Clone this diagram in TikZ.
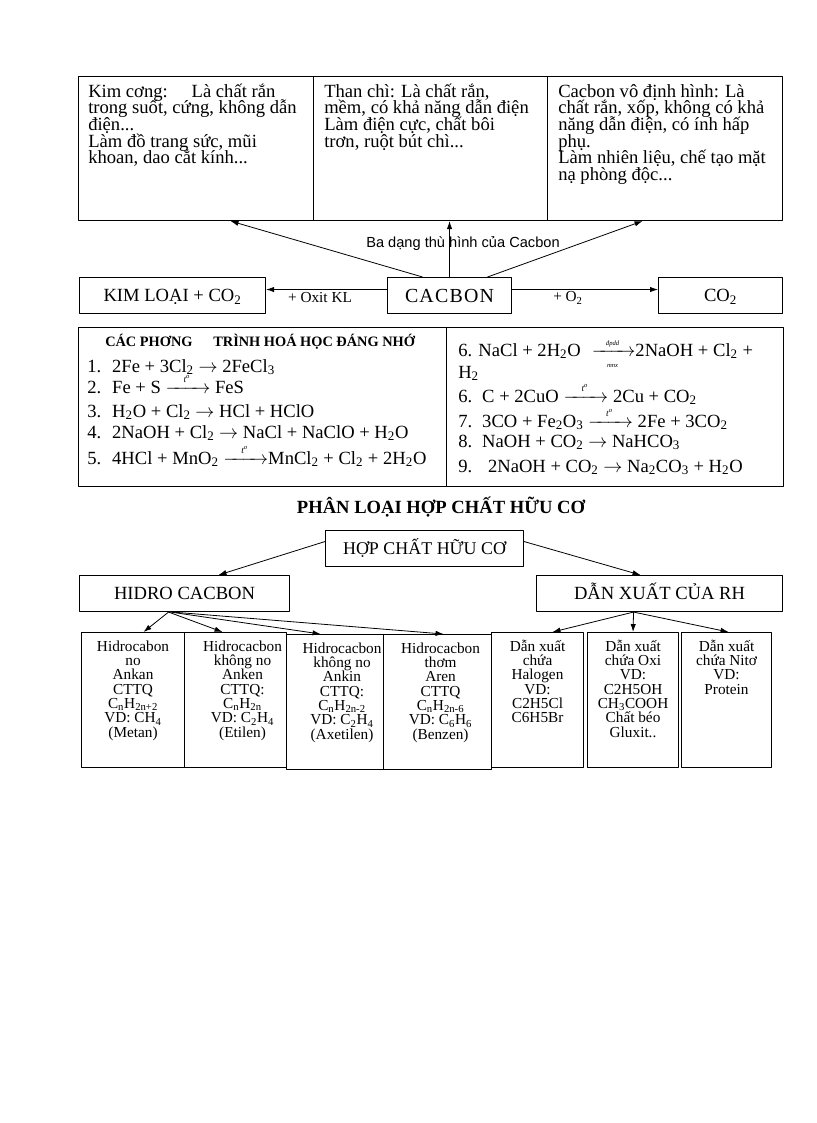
\documentclass[tikz,border=0pt]{standalone}
\usepackage{fontspec}
\usepackage{amsmath}
\setmainfont{Liberation Serif}
\newfontfamily\labelfont{Liberation Sans}
\usetikzlibrary{positioning,calc,arrows.meta}
\newlength\upx
\setlength\upx{0.75bp}
% reaction arrows with a condition written over them
\newcommand\heatarrow{\ensuremath{\xrightarrow{\text{\makebox[26pt]{\fontsize{7}{7}\selectfont\itshape t\textsuperscript{o}}}}}}
\newcommand\elecarrow{\ensuremath{\xrightarrow[\text{\makebox[25pt]{\fontsize{5}{5}\selectfont\itshape mnx}}]{\text{\makebox[25pt]{\fontsize{5}{5}\selectfont\itshape đpdd}}}}}
\begin{document}
\begin{tikzpicture}[>={Latex[length=6pt,width=4pt]},line join=bevel,x=0.75bp,y=-0.75bp,
  box/.style={draw,line width=0.8pt,inner sep=0pt,anchor=north west},
  capsbox/.style={box,minimum height=36\upx,text height=9pt,text depth=0pt,font=\fontsize{14}{14}\selectfont},
  boxtext/.style={inner sep=0pt,anchor=north west,align=left,font={\fontsize{14}{12.5}\selectfont\lineskiplimit=-20pt\lineskip=0pt}},
  eqline/.style={inner sep=0pt,anchor=base west,font=\fontsize{14}{16}\selectfont},
  eqhead/.style={inner sep=0pt,anchor=base west,font=\bfseries\fontsize{10.8}{12}\selectfont},
  leaftext/.style={inner sep=0pt,align=center,font={\fontsize{11.5}{10.75}\selectfont\lineskiplimit=-20pt\lineskip=0pt}},
  lbl/.style={inner sep=0pt,font=\fontsize{11.5}{12}\selectfont},
  link/.style={black,->,line width=0.6pt}]
\fill[white] (0,0) rectangle (816,1123);
\useasboundingbox (0,0) rectangle (816,1123);
%% the three forms of carbon
\node (kimcuong) at (78,76) [box,minimum width=235\upx,minimum height=144\upx] {};
\node (thanchi) at (313,76) [box,minimum width=234\upx,minimum height=144\upx] {};
\node (vodinh) at (547,76) [box,minimum width=235\upx,minimum height=144\upx] {};
\node (kimcuong_t) at (88,78.4) [boxtext] {\rule{0pt}{14pt}Kim cơng:\hspace{0.95em} Là chất rắn\\trong suốt, cứng, không dẫn\\điện...\\Làm đồ trang sức, mũi\\khoan, dao cắt kính...};
\node (thanchi_t) at (324,78.4) [boxtext] {\rule{0pt}{14pt}Than chì: Là chất rắn,\\mềm, có khả năng dẫn điện\\Làm điện cực, chất bôi\\trơn, ruột bút chì...};
\node (vodinh_t) at (558,78.4) [boxtext] {\rule{0pt}{14pt}Cacbon vô định hình: Là\\chất rắn, xốp, không có khả\\năng dẫn điện, có ính hấp\\phụ.\\Làm nhiên liệu, chế tạo mặt\\nạ phòng độc...};
%
\node (kimloai) at (79,277) [capsbox,minimum width=186\upx] {KIM LOẠI + CO\textsubscript{2}};
\node (cacbon) at (387,277) [capsbox,minimum width=124\upx,text height=10pt,font={\fontsize{15}{15}\selectfont\addfontfeature{LetterSpace=6}}] {CACBON};
\node (co2) at (658,277) [capsbox,minimum width=124\upx] {CO\textsubscript{2}};
\node (thuhinh) at (463,243) [inner sep=0pt,font=\labelfont\fontsize{11}{12}\selectfont] {Ba dạng thù hình của Cacbon};
\node (oxitkl) at (320,298) [lbl] {+ Oxit KL};
\node (oxi2) at (568,298) [lbl] {+ O\textsubscript{2}};
\draw [link] ($(cacbon.north)+(-27,0)$) -- ($(kimcuong.south)+(34.5,0)$);
\draw [link] (cacbon.north) -- ($(thanchi.south)+(19,0)$);
\draw [link] ($(cacbon.north)+(38,0)$) -- ($(vodinh.south)+(-22.5,0)$);
\draw [link] ([yshift=6\upx]cacbon.west) -- ([yshift=6\upx]kimloai.east);
\draw [link] ([yshift=6\upx]cacbon.east) -- ([yshift=6\upx]co2.west);
%% equations to remember
\node (ptleft) at (78,327) [box,minimum width=368\upx,minimum height=159\upx] {};
\node (ptright) at (446,327) [box,minimum width=337\upx,minimum height=159\upx] {};
\node (pt_head) at (105,346) [eqhead] {CÁC PHƠNG\hspace{1.2em} TRÌNH HOÁ HỌC ĐÁNG NHỚ};
\node (pt1) at (87,372) [eqline] {\makebox[1.34em][l]{1.}2Fe + 3Cl\textsubscript{2} $\rightarrow$ 2FeCl\textsubscript{3}};
\node (pt2) at (87,393) [eqline] {\makebox[1.34em][l]{2.}Fe + S \heatarrow{} FeS};
\node (pt3) at (87,417) [eqline] {\makebox[1.34em][l]{3.}H\textsubscript{2}O + Cl\textsubscript{2} $\rightarrow$ HCl + HClO};
\node (pt4) at (87,438) [eqline] {\makebox[1.34em][l]{4.}2NaOH + Cl\textsubscript{2} $\rightarrow$ NaCl + NaClO + H\textsubscript{2}O};
\node (pt5) at (87,464) [eqline] {\makebox[1.34em][l]{5.}4HCl + MnO\textsubscript{2} \heatarrow{}MnCl\textsubscript{2} + Cl\textsubscript{2} + 2H\textsubscript{2}O};
\node (pt6) at (458,356) [eqline] {6. NaCl + 2H\textsubscript{2}O\hspace{0.6em}\elecarrow{}2NaOH + Cl\textsubscript{2} +};
\node (pt6b) at (458,378) [eqline] {H\textsubscript{2}};
\node (pt7) at (458,402) [eqline] {\makebox[1.29em][l]{6.}C + 2CuO \heatarrow{} 2Cu + CO\textsubscript{2}};
\node (pt8) at (458,427) [eqline] {\makebox[1.29em][l]{7.}3CO + Fe\textsubscript{2}O\textsubscript{3} \heatarrow{} 2Fe + 3CO\textsubscript{2}};
\node (pt9) at (458,447) [eqline] {\makebox[1.29em][l]{8.}NaOH + CO\textsubscript{2} $\rightarrow$ NaHCO\textsubscript{3}};
\node (pt10) at (458,472) [eqline] {\makebox[1.6em][l]{9.}2NaOH + CO\textsubscript{2} $\rightarrow$ Na\textsubscript{2}CO\textsubscript{3} + H\textsubscript{2}O};
%% organic compounds
\node (title) at (441,507) [inner sep=0pt,font=\bfseries\fontsize{14}{14}\selectfont] {PHÂN LOẠI HỢP CHẤT HỮU CƠ};
\node (hopchat) at (325,530) [capsbox,minimum width=198\upx,font=\fontsize{13.5}{13.5}\selectfont] {HỢP CHẤT HỮU CƠ};
\node (hidro) at (79,575) [capsbox,minimum width=210\upx] {HIDRO CACBON};
\node (danxuat) at (536,575) [capsbox,minimum width=246\upx] {DẪN XUẤT CỦA RH};
\draw [link] ([yshift=7\upx]hopchat.west) -- ($(hidro.north)+(34,0)$);
\draw [link] ([yshift=7\upx]hopchat.east) -- ($(danxuat.north)+(-19,0)$);
%
\node (ankan) at (81,632) [box,minimum width=103\upx,minimum height=135\upx] {};
\node (anken) at (184,632) [box,minimum width=102\upx,minimum height=135\upx] {};
\node (ankin) at (286,634) [box,minimum width=97\upx,minimum height=135\upx] {};
\node (aren) at (383,634) [box,minimum width=108\upx,minimum height=135\upx] {};
\node (halogen) at (491,632) [box,minimum width=92\upx,minimum height=135\upx] {};
\node (oxi) at (587,632) [box,minimum width=91\upx,minimum height=135\upx] {};
\node (nito) at (681,632) [box,minimum width=90\upx,minimum height=135\upx] {};
\node (ankan_t) [leaftext,below=4.5\upx of ankan.north] {\rule{0pt}{11pt}Hidrocabon\\no\\Ankan\\CTTQ\\C\textsubscript{n}H\textsubscript{2n+2}\\VD: CH\textsubscript{4}\\(Metan)};
\node (anken_t) [leaftext,below=4.5\upx of anken.north,xshift=7\upx] {\rule{0pt}{11pt}Hidrocacbon\\không no\\Anken\\CTTQ:\\C\textsubscript{n}H\textsubscript{2n}\\VD: C\textsubscript{2}H\textsubscript{4}\\(Etilen)};
\node (ankin_t) [leaftext,below=4.5\upx of ankin.north,xshift=7\upx] {\rule{0pt}{11pt}Hidrocacbon\\không no\\Ankin\\CTTQ:\\C\textsubscript{n}H\textsubscript{2n-2}\\VD: C\textsubscript{2}H\textsubscript{4}\\(Axetilen)};
\node (aren_t) [leaftext,below=4.5\upx of aren.north,xshift=3\upx] {\rule{0pt}{11pt}Hidrocacbon\\thơm\\Aren\\CTTQ\\C\textsubscript{n}H\textsubscript{2n-6}\\VD: C\textsubscript{6}H\textsubscript{6}\\(Benzen)};
\node (halogen_t) [leaftext,below=4.5\upx of halogen.north] {\rule{0pt}{11pt}Dẫn xuất\\chứa\\Halogen\\VD:\\C2H5Cl\\C6H5Br};
\node (oxi_t) [leaftext,below=4.5\upx of oxi.north] {\rule{0pt}{11pt}Dẫn xuất\\chứa Oxi\\VD:\\C2H5OH\\CH\textsubscript{3}COOH\\Chất béo\\Gluxit..};
\node (nito_t) [leaftext,below=4.5\upx of nito.north] {\rule{0pt}{11pt}Dẫn xuất\\chứa Nitơ\\VD:\\Protein};
\draw [link] ($(hidro.south)+(-16,0)$) -- ($(ankan.north)+(10.5,0)$);
\draw [link] ($(hidro.south)+(-16,0)$) -- ($(anken.north)+(-13,0)$);
\draw [link] ($(hidro.south)+(-14,0)$) -- ($(ankin.north)+(-14.5,0)$);
\draw [link] ($(hidro.south)+(-12,0)$) -- ($(aren.north)+(6,0)$);
\draw [link] ($(danxuat.south)+(-26,0)$) -- ($(halogen.north)+(15,0)$);
\draw [link] ($(danxuat.south)+(-26,0)$) -- (oxi.north);
\draw [link] ($(danxuat.south)+(-26,0)$) -- ($(nito.north)+(2,0)$);
%
\end{tikzpicture}
\end{document}
